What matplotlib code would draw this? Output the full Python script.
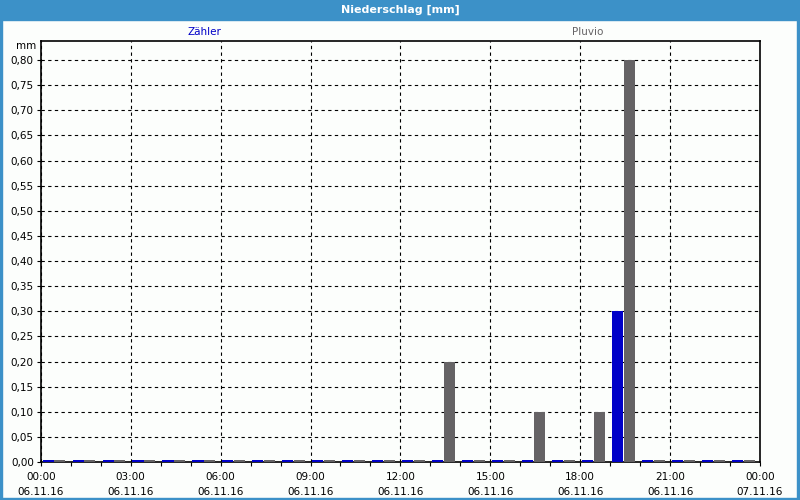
import matplotlib
matplotlib.use("Agg")
import matplotlib.pyplot as plt
from matplotlib.patches import Rectangle
import numpy as np

# hourly precipitation on 06.11.16 (mm), hour of day = start of interval
hours = list(range(24))
zaehler = [0, 0, 0, 0, 0, 0, 0, 0, 0, 0, 0, 0, 0, 0, 0, 0, 0, 0, 0, 0.30, 0, 0, 0, 0]
pluvio = [0, 0, 0, 0, 0, 0, 0, 0, 0, 0, 0, 0, 0, 0.20, 0, 0, 0.10, 0, 0.10, 0.80, 0, 0, 0, 0]

tick_hours = [0, 3, 6, 9, 12, 15, 18, 21, 24]
tick_labels = ["00:00\n06.11.16", "03:00\n06.11.16", "06:00\n06.11.16", "09:00\n06.11.16",
               "12:00\n06.11.16", "15:00\n06.11.16", "18:00\n06.11.16", "21:00\n06.11.16",
               "00:00\n07.11.16"]
y_ticks = np.arange(0, 0.81, 0.05)

bg = "#fcfefc"
frame_blue = "#3c91c8"
col_z = "#0000c8"
col_p = "#656365"

fig = plt.figure(figsize=(8, 5), dpi=100, facecolor=bg)

# window frame + title bar
fig.add_artist(Rectangle((0, 0.96), 1, 0.04, transform=fig.transFigure, color=frame_blue, zorder=0))
fig.add_artist(Rectangle((0, 0), 0.003, 1, transform=fig.transFigure, color=frame_blue, zorder=0))
fig.add_artist(Rectangle((0.996, 0), 0.004, 1, transform=fig.transFigure, color=frame_blue, zorder=0))
fig.add_artist(Rectangle((0, 0), 1, 0.005, transform=fig.transFigure, color=frame_blue, zorder=0))
fig.text(0.5, 0.98, "Niederschlag [mm]", color="white", fontsize=8, fontweight="bold",
         ha="center", va="center")

ax = fig.add_axes([0.051, 0.076, 0.899, 0.842])
ax.set_facecolor(bg)

# zero values are still shown as a thin stub
stub = 0.004
w = 0.37
h = np.array(hours)
ax.bar(h + 0.06, np.maximum(zaehler, stub), width=w, align="edge", color=col_z, zorder=3)
ax.bar(h + 0.45, np.maximum(pluvio, stub), width=w, align="edge", color=col_p, zorder=3)

ax.set_xlim(0, 24)
ax.set_ylim(0, 0.838)
ax.set_xticks(tick_hours)
ax.set_xticklabels(tick_labels, fontsize=7.5, linespacing=1.7)
ax.set_xticks(hours, minor=True)
ax.set_yticks(y_ticks)
ax.set_yticklabels([f"{v:.2f}".replace(".", ",") for v in y_ticks], fontsize=7.5)
ax.tick_params(axis="both", which="both", length=3, width=0.8, color="black", pad=2)
ax.tick_params(axis="x", which="major", pad=4)

ax.grid(True, which="major", color="black", linestyle=(0, (3, 3)), linewidth=0.8, zorder=1)
ax.set_axisbelow(True)
for s in ax.spines.values():
    s.set_linewidth(1.2)

fig.text(0.045, 0.908, "mm", fontsize=7.5, ha="right", va="center")
fig.text(0.256, 0.936, "Zähler", color=col_z, fontsize=7.5, ha="center", va="center")
fig.text(0.735, 0.936, "Pluvio", color=col_p, fontsize=7.5, ha="center", va="center")

fig.savefig("out.png", dpi=100, facecolor=bg)
